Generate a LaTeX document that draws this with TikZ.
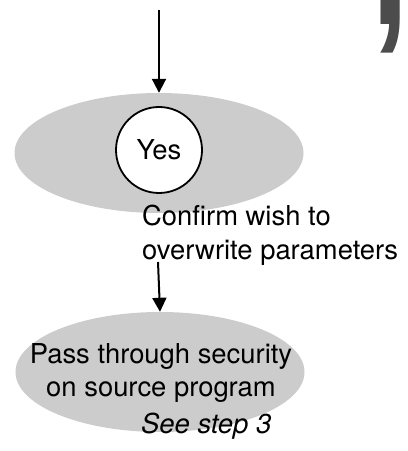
\documentclass[tikz,border=0pt]{standalone}
\usepackage{graphicx}
\usepackage{fontspec}
\setmainfont{TeX Gyre Heros}
\newfontfamily\markfont{Liberation Sans}
\usetikzlibrary{arrows.meta,shapes.geometric}

\begin{document}
\begin{tikzpicture}[x=1pt,y=1pt,
  txt/.style={inner sep=0pt,font=\fontsize{27.4}{33.5}\selectfont},
  oval/.style={ellipse,fill=black!20,minimum width=289pt,minimum height=120pt,inner sep=0pt},
  flow/.style={line width=2pt,-{Triangle[length=14pt,width=14pt]}}]
\path[use as bounding box] (0,0) rectangle (408,451);
\coordinate (in) at (159,441);
\node[oval] (ask) at (159,298) {};
\node[circle,draw,fill=white,line width=1.8pt,minimum size=86pt,txt] (yes) at (159,301) {Yes};
\node[txt,anchor=north west,align=left] (confirm) at (142,246) {Confirm wish to\\overwrite parameters};
\coordinate (out) at (158,189);
\node[oval] (pass) at (160,79) {};
\node[txt,align=center] (passtext) at (161,78) {Pass through security\\on source program};
\node[txt,anchor=base west,font=\fontsize{27.4}{33.5}\selectfont\itshape] (see) at (141,17) {See step 3};
\node[inner sep=0pt,anchor=base,text=black!70,font=\fontsize{185}{185}\markfont\bfseries] (comma) at (390,426) {\smash{\scalebox{0.735}[1]{,}}};
\draw[flow] (in) -- (ask.north);
\draw[flow] (out) -- (pass.north);
\end{tikzpicture}
\end{document}
